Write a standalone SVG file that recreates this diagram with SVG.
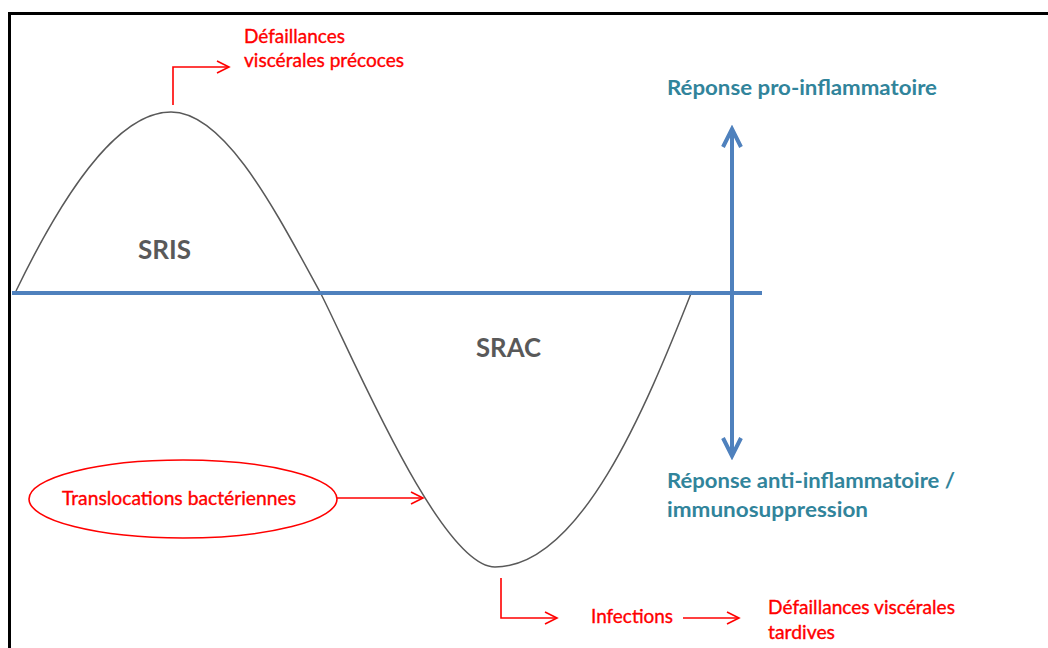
<svg xmlns="http://www.w3.org/2000/svg" width="1048" height="648" viewBox="0 0 1048 648">
<defs>
<style>
.red{font-family:Lato,"Open Sans","Liberation Sans",sans-serif;font-size:18.5px;fill:#FF0000;stroke:#FF0000;stroke-width:0.35}
.teal{font-family:Lato,"Open Sans","Liberation Sans",sans-serif;font-size:21.5px;font-weight:bold;fill:#31849B}
.big{font-family:Lato,"Open Sans","Liberation Sans",sans-serif;font-size:26.5px;font-weight:bold;fill:#595959}
.rl{fill:none;stroke:#FF0000;stroke-width:1.6}
.bl{fill:none;stroke:#4F81BD;stroke-width:4}
</style>
<marker id="ra" markerUnits="userSpaceOnUse" markerWidth="16" markerHeight="16" viewBox="0 0 16 16" refX="14" refY="8" orient="auto">
<path d="M2,2 L14,8 L2,14" fill="none" stroke="#FF0000" stroke-width="1.6"/>
</marker>
<marker id="ba" markerUnits="userSpaceOnUse" markerWidth="26" markerHeight="26" viewBox="0 0 26 26" refX="22" refY="13" orient="auto-start-reverse">
<path d="M4,4 L22,13 L4,22" fill="none" stroke="#4F81BD" stroke-width="4"/>
</marker>
</defs>
<rect width="1048" height="648" fill="#FFFFFF"/>
<path d="M9.5,650 V13.5 H1050" fill="none" stroke="#000000" stroke-width="3"/>

<g id="curve">
<path d="M16,291 C60,200 115,112 171,112 C225,112 275,210 320,292 C350,350 440,567 495,567 C580,567 645,410 692,291" fill="none" stroke="#595959" stroke-width="1.5"/>
</g>

<g id="axes">
<line x1="12" y1="293" x2="762" y2="293" class="bl"/>
<line x1="732" y1="129" x2="732" y2="456" class="bl" marker-start="url(#ba)" marker-end="url(#ba)"/>
</g>

<g id="connectors">
<path d="M173,105 V67 H229" class="rl" marker-end="url(#ra)"/>
<path d="M337,498 H423" class="rl" marker-end="url(#ra)"/>
<path d="M501,578 V618 H557" class="rl" marker-end="url(#ra)"/>
<path d="M683,618 H739" class="rl" marker-end="url(#ra)"/>
</g>

<g id="sris"><text x="138" y="259" class="big" textLength="53" lengthAdjust="spacingAndGlyphs">SRIS</text></g>
<g id="srac"><text x="476" y="357" class="big" textLength="65" lengthAdjust="spacingAndGlyphs">SRAC</text></g>

<g id="precoces">
<text x="244" y="43" class="red" textLength="101" lengthAdjust="spacingAndGlyphs">Défaillances</text>
<text x="244" y="67" class="red" textLength="160" lengthAdjust="spacingAndGlyphs">viscérales précoces</text>
</g>

<g id="pro">
<text x="667" y="95" class="teal" textLength="270" lengthAdjust="spacingAndGlyphs">Réponse pro-inflammatoire</text>
</g>

<g id="anti">
<text x="667" y="488" class="teal" textLength="288" lengthAdjust="spacingAndGlyphs">Réponse anti-inflammatoire /</text>
<text x="667" y="517" class="teal" textLength="201" lengthAdjust="spacingAndGlyphs">immunosuppression</text>
</g>

<g id="translocations">
<ellipse cx="183" cy="499" rx="154" ry="39" class="rl"/>
<text x="62" y="505" class="red" textLength="234" lengthAdjust="spacingAndGlyphs">Translocations bactériennes</text>
</g>

<g id="infections">
<text x="591" y="623" class="red" textLength="82" lengthAdjust="spacingAndGlyphs">Infections</text>
</g>

<g id="tardives">
<text x="768" y="614" class="red" textLength="187" lengthAdjust="spacingAndGlyphs">Défaillances viscérales</text>
<text x="768" y="639" class="red" textLength="67" lengthAdjust="spacingAndGlyphs">tardives</text>
</g>
</svg>
